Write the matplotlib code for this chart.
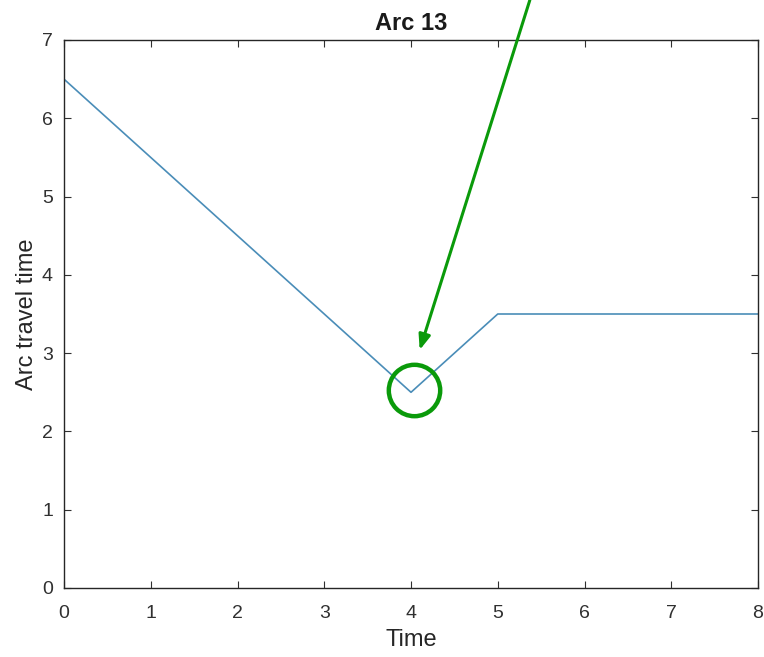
import matplotlib.pyplot as plt

plt.rcParams['font.family'] = ['Liberation Sans', 'DejaVu Sans']

time = [0, 4, 5, 8]
travel = [6.5, 2.5, 3.5, 3.5]

circle_x = [4.04]
circle_y = [2.53]

arrow_tail = (5.37, 7.51)
arrow_head = (4.10, 3.04)

fig = plt.figure(figsize=(7.64, 6.57), dpi=100)
ax = fig.add_axes([64 / 764, 1 - 588 / 657, 694 / 764, 548 / 657])

ax.plot(time, travel, color='#4a8db8', lw=1.2)
ax.plot(circle_x, circle_y, 'o', ms=37, mfc='none', mec='#0a9a0a', mew=3.2,
        clip_on=False)
ax.annotate('', xy=arrow_head, xytext=arrow_tail, annotation_clip=False,
            arrowprops=dict(arrowstyle='-|>,head_length=0.9,head_width=0.35',
                            color='#0a9a0a', lw=2.2, shrinkA=0, shrinkB=0))

ax.set_xlim(0, 8)
ax.set_ylim(0, 7)
ax.set_xticks(range(9))
ax.set_yticks(range(8))
ax.tick_params(direction='in', top=True, right=True, labelsize=14,
               colors='#303030', length=5)
ax.tick_params(axis='x', pad=12)
ax.tick_params(axis='y', pad=8)
for s in ax.spines.values():
    s.set_color('#262626')
    s.set_linewidth(1.0)

ax.set_xlabel('Time', fontsize=17, color='#262626', labelpad=5)
ax.set_ylabel('Arc travel time', fontsize=17, color='#262626', labelpad=3)
ax.set_title('Arc 13', fontsize=17, fontweight='bold', color='#1a1a1a', pad=7)

fig.savefig('out.png', dpi=100)
